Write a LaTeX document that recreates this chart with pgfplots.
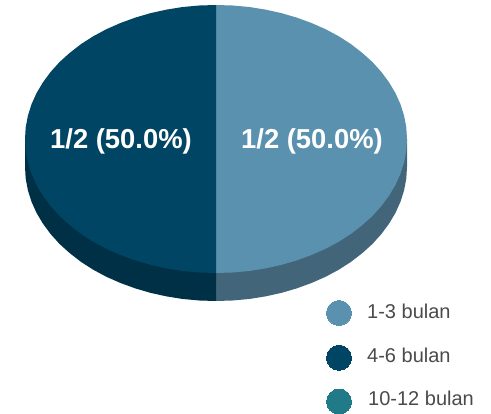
\documentclass[border=0pt]{standalone}
\usepackage{fontspec}
\setmainfont{Liberation Sans}
\usepackage{pgfplots}
\pgfplotsset{compat=1.18}
\definecolor{lightTop}{HTML}{5A91AF}
\definecolor{darkTop}{HTML}{004563}
\definecolor{lightSide}{HTML}{436579}
\definecolor{darkSide}{HTML}{003045}
\definecolor{teal}{HTML}{217A87}
\definecolor{txt}{HTML}{4A4A4A}
\begin{document}
\begin{tikzpicture}
\begin{axis}[
  scale only axis, width=491bp, height=411bp,
  xmin=0, xmax=491, ymin=0, ymax=411, y dir=reverse,
  axis lines=none, clip=false,
  every axis plot/.append style={line join=round}
]
\path[use as bounding box] (axis cs:0,0) rectangle (axis cs:491,411);
% side wall, right half
\addplot[fill=lightSide, draw=none] coordinates {
(216,139)(407,139)(407,167)(406.3,178.7)(404.1,190.3)(400.5,201.7)(395.5,212.8)(389.1,223.6)(381.4,234)(372.5,243.9)(362.3,253.1)(351.1,261.8)(338.8,269.7)(325.6,276.8)(311.5,283)(296.7,288.4)(281.3,292.9)(265.4,296.4)(249.2,299)(232.6,300.5)(216,301)} -- cycle;
% side wall, left half
\addplot[fill=darkSide, draw=none] coordinates {
(216,139)(25,139)(25,167)(25.7,178.7)(27.9,190.3)(31.5,201.7)(36.5,212.8)(42.9,223.6)(50.6,234)(59.5,243.9)(69.7,253.1)(80.9,261.8)(93.2,269.7)(106.4,276.8)(120.5,283)(135.3,288.4)(150.7,292.9)(166.6,296.4)(182.8,299)(199.4,300.5)(216,301)} -- cycle;
% top, right half: 1-3 bulan
\addplot[fill=lightTop, draw=none] coordinates {
(216,5)(232.6,5.5)(249.2,7)(265.4,9.6)(281.3,13.1)(296.7,17.6)(311.5,23)(325.6,29.2)(338.8,36.3)(351.1,44.2)(362.3,52.9)(372.5,62.1)(381.4,72)(389.1,82.4)(395.5,93.2)(400.5,104.3)(404.1,115.7)(406.3,127.3)(407,139)(406.3,150.7)(404.1,162.3)(400.5,173.7)(395.5,184.8)(389.1,195.6)(381.4,206)(372.5,215.9)(362.3,225.1)(351.1,233.8)(338.8,241.7)(325.6,248.8)(311.5,255)(296.7,260.4)(281.3,264.9)(265.4,268.4)(249.2,271)(232.6,272.5)(216,273)} -- cycle;
% top, left half: 4-6 bulan
\addplot[fill=darkTop, draw=none] coordinates {
(216,5)(199.4,5.5)(182.8,7)(166.6,9.6)(150.7,13.1)(135.3,17.6)(120.5,23)(106.4,29.2)(93.2,36.3)(80.9,44.2)(69.7,52.9)(59.5,62.1)(50.6,72)(42.9,82.4)(36.5,93.2)(31.5,104.3)(27.9,115.7)(25.7,127.3)(25,139)(25.7,150.7)(27.9,162.3)(31.5,173.7)(36.5,184.8)(42.9,195.6)(50.6,206)(59.5,215.9)(69.7,225.1)(80.9,233.8)(93.2,241.7)(106.4,248.8)(120.5,255)(135.3,260.4)(150.7,264.9)(166.6,268.4)(182.8,271)(199.4,272.5)(216,273)} -- cycle;
% legend markers
\addplot[only marks, color=lightTop, mark=*, mark size=12.5bp, mark options={fill=lightTop, draw=lightTop, line width=0pt}] coordinates {(339,313)};
\addplot[only marks, color=darkTop, mark=*, mark size=12.5bp, mark options={fill=darkTop, draw=darkTop, line width=0pt}] coordinates {(339,357.7)};
\addplot[only marks, color=teal, mark=*, mark size=12.5bp, mark options={fill=teal, draw=teal, line width=0pt}] coordinates {(339,401.5)};
% labels
\node[text=white, font=\fontsize{27.4bp}{30bp}\selectfont\bfseries] at (axis cs:121,141.5) {1/2 (50.0\%)};
\node[text=white, font=\fontsize{27.4bp}{30bp}\selectfont\bfseries] at (axis cs:312,141.5) {1/2 (50.0\%)};
% legend text
\node[text=txt, anchor=base west, inner sep=0pt, font=\fontsize{20bp}{24bp}\selectfont] at (axis cs:367,318) {1-3 bulan};
\node[text=txt, anchor=base west, inner sep=0pt, font=\fontsize{20bp}{24bp}\selectfont] at (axis cs:367,362) {4-6 bulan};
\node[text=txt, anchor=base west, inner sep=0pt, font=\fontsize{20bp}{24bp}\selectfont] at (axis cs:368,405.5) {10-12 bulan};
\end{axis}
\end{tikzpicture}
\end{document}
